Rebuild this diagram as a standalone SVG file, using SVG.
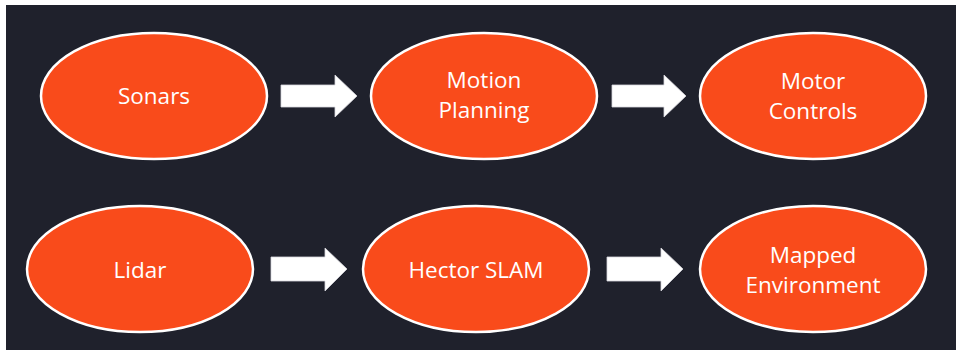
<svg xmlns="http://www.w3.org/2000/svg" width="956" height="350" viewBox="0 0 956 350">
  <style>
    .node ellipse { fill: #F94B1B; stroke: #FFFFFF; stroke-width: 2.5; }
    .node text { fill: #FFFFFF; font-family: "Open Sans", "Liberation Sans", sans-serif; font-size: 22.5px; text-anchor: middle; }
    .arrow { fill: #FFFFFF; stroke: #D8D8DE; stroke-width: 0.8; }
  </style>
  <rect x="0" y="0" width="956" height="350" fill="#FFFFFF"/>
  <rect x="6" y="5" width="950" height="345" fill="#1F212C"/>

  <g id="sonars" class="node">
    <ellipse cx="154" cy="96" rx="113" ry="63"/>
    <text x="154" y="104">Sonars</text>
  </g>
  <g id="motion-planning" class="node">
    <ellipse cx="484" cy="96" rx="113" ry="63"/>
    <text x="484" y="88">Motion</text>
    <text x="484" y="118">Planning</text>
  </g>
  <g id="motor-controls" class="node">
    <ellipse cx="813" cy="96" rx="113" ry="63"/>
    <text x="813" y="89">Motor</text>
    <text x="813" y="119">Controls</text>
  </g>
  <g id="lidar" class="node">
    <ellipse cx="140" cy="269" rx="113" ry="63"/>
    <text x="140" y="278">Lidar</text>
  </g>
  <g id="hector-slam" class="node">
    <ellipse cx="476" cy="269" rx="113" ry="63"/>
    <text x="476" y="278">Hector SLAM</text>
  </g>
  <g id="mapped-environment" class="node">
    <ellipse cx="813" cy="269" rx="113" ry="63"/>
    <text x="813" y="263">Mapped</text>
    <text x="813" y="293">Environment</text>
  </g>

  <g id="connectors">
    <polygon class="arrow" points="281,85 335,85 335,75 357,96 335,117 335,107 281,107"/>
    <polygon class="arrow" points="612,85 664,85 664,75 686,96 664,117 664,107 612,107"/>
    <polygon class="arrow" points="271,257 325,257 325,248 347,269 325,291 325,281 271,281"/>
    <polygon class="arrow" points="607,257 661,257 661,248 683,269 661,291 661,281 607,281"/>
  </g>
</svg>
